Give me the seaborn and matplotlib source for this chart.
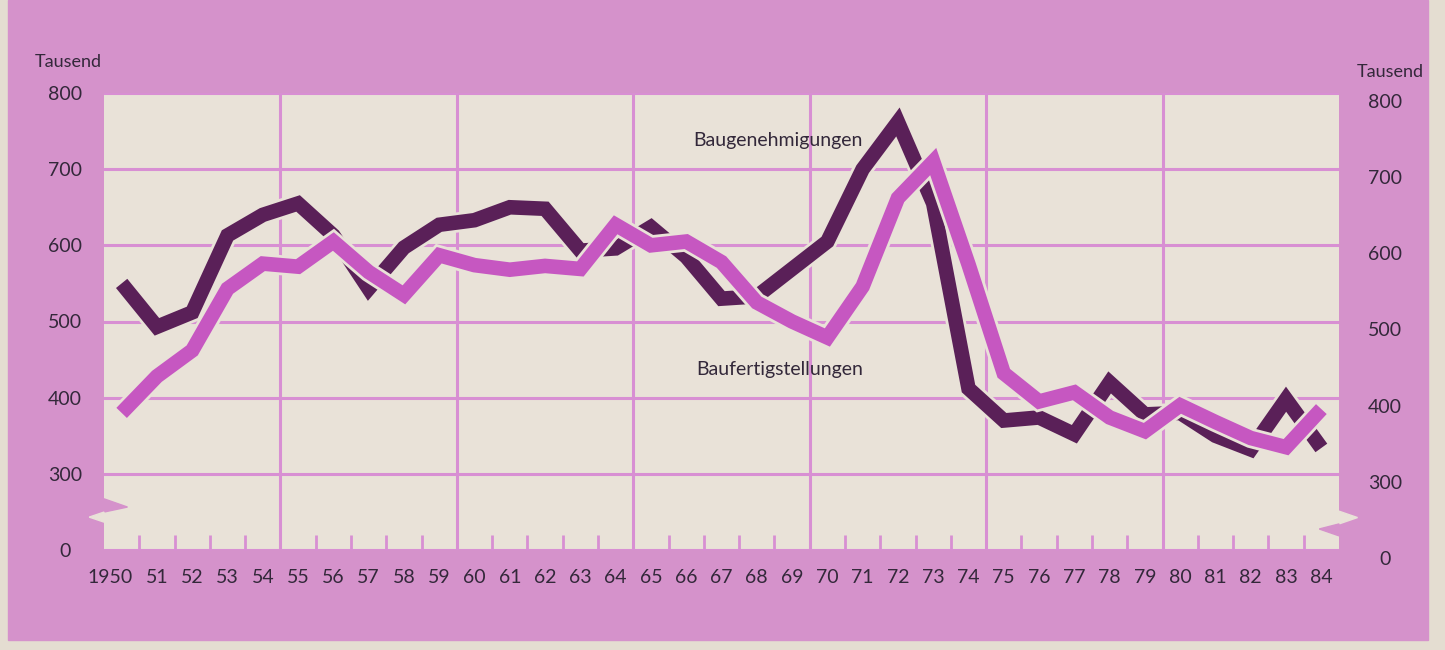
import numpy as np
import pandas as pd
import matplotlib
matplotlib.use("Agg")
import matplotlib.pyplot as plt
import seaborn as sns
from matplotlib import patheffects as pe
from matplotlib.patches import Rectangle, Polygon
from matplotlib.transforms import ScaledTranslation

# data (Tausend Wohnungen)
years = list(range(1950, 1985))
genehmigungen = [550, 493, 512, 613, 640, 655, 613, 543, 597, 627,
                 633, 650, 648, 593, 596, 624, 585, 530, 533, 569,
                 605, 700, 762, 655, 412, 370, 374, 352, 420, 378,
                 380, 350, 332, 398, 334]
fertigstellungen = [380, 428, 462, 543, 576, 572, 605, 565, 535, 587,
                    574, 568, 573, 569, 627, 600, 605, 578, 525, 500,
                    479, 546, 662, 710, 575, 432, 395, 407, 374, 356,
                    390, 368, 347, 335, 385]
y_ticks = [0, 300, 400, 500, 600, 700, 800]
x_labels = ["1950"] + [f"{y % 100:02d}" for y in years[1:]]

PAPER = "#e4ddd1"
PINK = "#d592cb"
CREAM = "#e9e2d8"
GRID = "#d88fd3"
DARK = "#5a2058"
BRIGHT = "#c657c1"
TEXT = "#33283a"
LW = 10.5
FS = 14


def fwd(v):
    v = np.asarray(v, dtype=float)
    return np.where(v < 300, v / 300.0, 1.0 + (v - 300.0) / 100.0)


def inv(u):
    u = np.asarray(u, dtype=float)
    return np.where(u < 1, u * 300.0, 300.0 + (u - 1.0) * 100.0)


sns.set_style("white")
plt.rcParams["font.family"] = ["Lato", "DejaVu Sans"]

df = pd.DataFrame({"Jahr": years,
                   "Baugenehmigungen": genehmigungen,
                   "Baufertigstellungen": fertigstellungen})
df["x"] = df["Jahr"] + 0.5   # each year drawn in the middle of its interval

fig = plt.figure(figsize=(14.45, 6.5), dpi=100, facecolor=PAPER)
fig.add_artist(Rectangle((8 / 1445, 10 / 650), (1428 - 8) / 1445, 1 - 10 / 650,
                         transform=fig.transFigure, color=PINK, zorder=-10))

ax = fig.add_axes([104 / 1445, 100 / 650, (1339 - 104) / 1445, 457 / 650])
ax.set_facecolor(CREAM)
ax.set_yscale("function", functions=(fwd, inv))
ax.set_xlim(1950, 1985)
ax.set_ylim(0, 800)

halo = [pe.withStroke(linewidth=LW + 4, foreground=CREAM)]
sns.lineplot(data=df, x="x", y="Baugenehmigungen", color=DARK, lw=LW, ax=ax,
             path_effects=halo, solid_joinstyle="miter", solid_capstyle="butt", zorder=3)
sns.lineplot(data=df, x="x", y="Baufertigstellungen", color=BRIGHT, lw=LW, ax=ax,
             path_effects=halo, solid_joinstyle="miter", solid_capstyle="butt", zorder=4)
ax.set_xlabel("")
ax.set_ylabel("")

# grid
ax.set_yticks(y_ticks)
ax.set_yticklabels([str(t) for t in y_ticks])
ax.grid(axis="y", color=GRID, lw=2.2, zorder=1)
ax.grid(axis="x", visible=False)
for yr in range(1955, 1985, 5):
    ax.axvline(yr, color=GRID, lw=2.2, zorder=1)

ax.set_xticks([y + 0.5 for y in years])
ax.set_xticklabels(x_labels)
ax.set_xticks([y for y in range(1951, 1985) if y % 5], minor=True)
ax.tick_params(axis="x", which="major", length=0, pad=14, labelsize=FS, labelcolor=TEXT)
ax.tick_params(axis="x", which="minor", direction="in", length=11, width=2,
               color=GRID, bottom=True)
ax.tick_params(axis="y", length=0, pad=28, labelsize=FS, labelcolor=TEXT)
for lab in ax.get_yticklabels():
    lab.set_ha("center")
lab0 = ax.get_xticklabels()[0]
lab0.set_transform(lab0.get_transform() + ScaledTranslation(-0.12, 0, fig.dpi_scale_trans))

ax2 = ax.twinx()
ax2.set_yscale("function", functions=(fwd, inv))
ax2.set_ylim(0, 800)
ax2.set_yticks(y_ticks)
ax2.set_yticklabels([str(t) for t in y_ticks])
ax2.tick_params(axis="y", length=0, pad=33, labelsize=FS, labelcolor=TEXT)
ax2.grid(False)
for lab in ax2.get_yticklabels():
    lab.set_ha("center")
    lab.set_transform(lab.get_transform() + ScaledTranslation(0, -0.08, fig.dpi_scale_trans))

for a in (ax, ax2):
    for s in a.spines.values():
        s.set_visible(False)

# axis break marks
ax.add_patch(Polygon([(0, 0.112), (0.019, 0.094), (0, 0.083)], transform=ax.transAxes,
                     color=PINK, clip_on=False, zorder=5))
ax.add_patch(Polygon([(0, 0.083), (-0.012, 0.072), (0, 0.061)], transform=ax.transAxes,
                     color=CREAM, clip_on=False, zorder=5))
ax.add_patch(Polygon([(1, 0.085), (1.015, 0.071), (1, 0.057)], transform=ax.transAxes,
                     color=CREAM, clip_on=False, zorder=5))
ax.add_patch(Polygon([(1, 0.057), (0.984, 0.046), (1, 0.031)], transform=ax.transAxes,
                     color=PINK, clip_on=False, zorder=5))

ax.text(1969.1, 738, "Baugenehmigungen", ha="center", va="center",
        fontsize=FS, color=TEXT, zorder=6)
ax.text(1969.15, 437, "Baufertigstellungen", ha="center", va="center",
        fontsize=FS, color=TEXT, zorder=6)

fig.text(68 / 1445, 1 - 62 / 650, "Tausend", ha="center", va="center", fontsize=13, color=TEXT)
fig.text(1390 / 1445, 1 - 72 / 650, "Tausend", ha="center", va="center", fontsize=13, color=TEXT)

fig.savefig("out.png", dpi=100, facecolor=fig.get_facecolor())
